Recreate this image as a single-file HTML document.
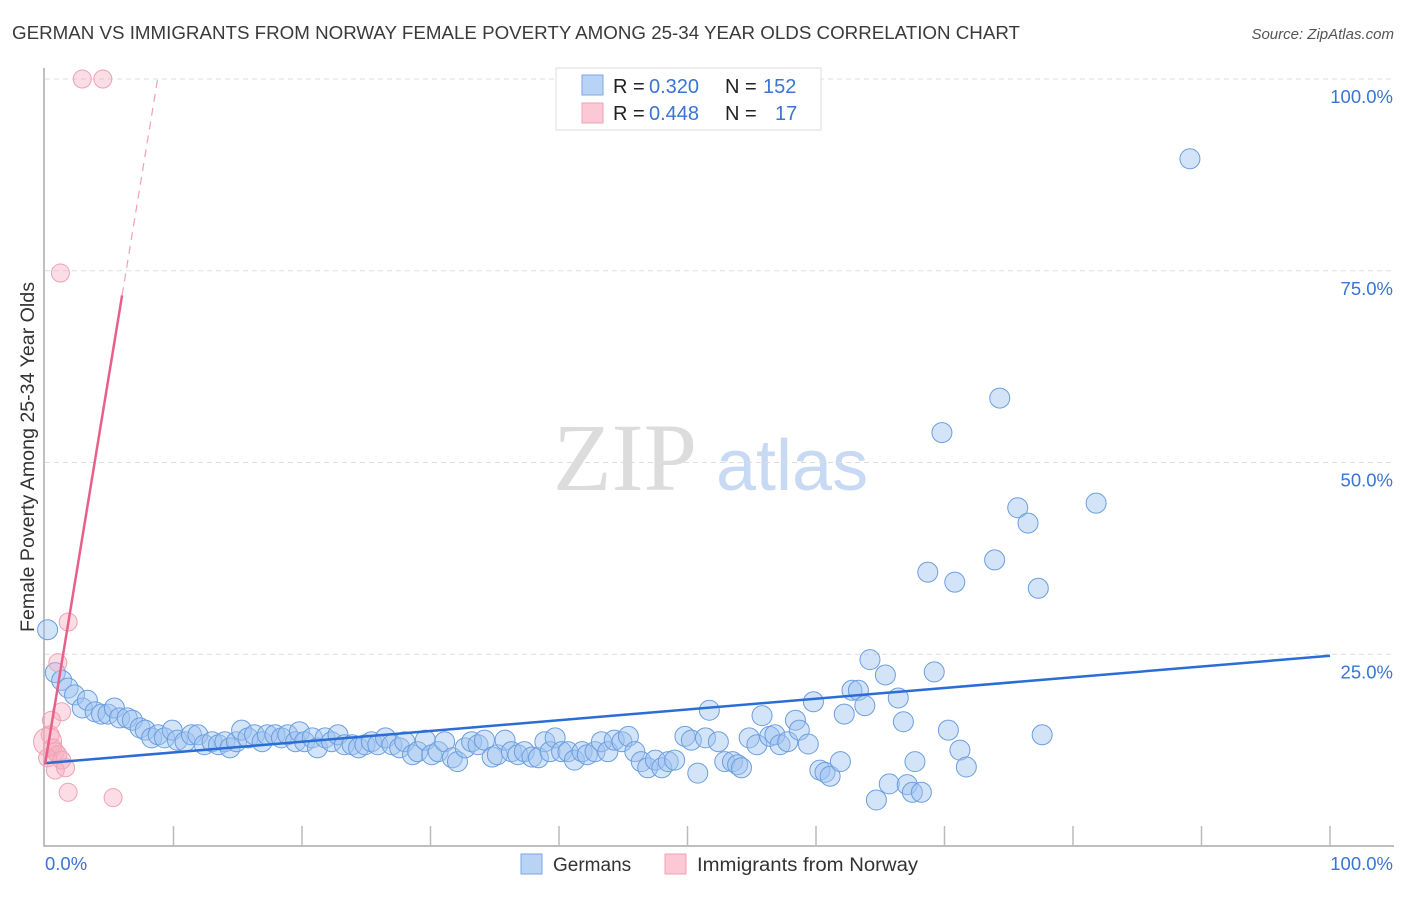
<!DOCTYPE html>
<html><head><meta charset="utf-8"><style>
body{margin:0;background:#fff;font-family:"Liberation Sans",sans-serif}
</style></head><body>
<svg id="c" width="1406" height="892" xmlns="http://www.w3.org/2000/svg" font-family="Liberation Sans, sans-serif">
<text x="12" y="39" font-size="18" fill="#3a3a3a" textLength="1008" lengthAdjust="spacingAndGlyphs">GERMAN VS IMMIGRANTS FROM NORWAY FEMALE POVERTY AMONG 25-34 YEAR OLDS CORRELATION CHART</text>
<text x="1394" y="39" font-size="15" fill="#555" font-style="italic" text-anchor="end">Source: ZipAtlas.com</text>
<g>
<text x="553" y="490" font-size="96" font-family="Liberation Serif, serif" fill="#dcdcdc">ZIP</text>
<text x="716" y="490" font-size="72" fill="#c8daf3">atlas</text>
</g>
<g id="grid"></g>
<g id="axes"></g>
<g id="pts"></g>
<g id="lines"></g>
<text transform="translate(34,457) rotate(-90)" font-size="19" fill="#333" text-anchor="middle" textLength="350" lengthAdjust="spacingAndGlyphs">Female Poverty Among 25-34 Year Olds</text>
<g>
<rect x="556" y="68" width="265" height="62" fill="#fff" stroke="#ddd"/>
<rect x="582" y="75" width="21" height="20" fill="#b9d3f5" stroke="#7aa6e6"/>
<rect x="582" y="103" width="21" height="20" fill="#fcc8d6" stroke="#f0a0b5"/>
<text x="613" y="93" font-size="20" fill="#222">R =</text>
<text x="649" y="93" font-size="20" fill="#3a74d4">0.320</text>
<text x="725" y="93" font-size="20" fill="#222">N =</text>
<text x="763" y="93" font-size="20" fill="#3a74d4">152</text>
<text x="613" y="120" font-size="20" fill="#222">R =</text>
<text x="649" y="120" font-size="20" fill="#3a74d4">0.448</text>
<text x="725" y="120" font-size="20" fill="#222">N =</text>
<text x="775" y="120" font-size="20" fill="#3a74d4">17</text>
</g>
<g>
<rect x="521" y="854" width="21" height="20" fill="#b9d3f5" stroke="#7aa6e6"/>
<text x="553" y="871" font-size="19" fill="#333">Germans</text>
<rect x="665" y="854" width="21" height="20" fill="#fcc8d6" stroke="#f0a0b5"/>
<text x="697" y="871" font-size="19" fill="#333" textLength="221" lengthAdjust="spacingAndGlyphs">Immigrants from Norway</text>
</g>
</svg>
<script>
const germansX=[0.2,0.8,1.3,1.8,2.3,2.9,3.3,3.9,4.4,4.9,5.4,5.8,6.4,6.8,7.4,7.8,8.3,8.8,9.3,9.9,10.3,10.9,11.4,11.9,12.4,13.0,13.5,14.0,14.4,14.9,15.3,15.8,16.3,16.9,17.3,17.9,18.4,18.9,19.5,19.8,20.2,20.8,21.2,21.8,22.3,22.8,23.3,23.9,24.4,24.9,25.4,25.9,26.5,27.0,27.6,28.0,28.6,29.0,29.6,30.1,30.6,31.1,31.7,32.1,32.7,33.2,33.7,34.2,34.8,35.2,35.8,36.3,36.8,37.3,37.9,38.4,38.9,39.3,39.7,40.2,40.7,41.2,41.8,42.2,42.8,43.3,43.8,44.3,44.9,45.4,45.9,46.4,46.9,47.5,48.0,48.5,49.0,49.8,50.3,50.8,51.4,51.7,52.4,52.9,53.5,53.9,54.2,54.8,55.4,55.8,56.4,56.8,57.2,57.8,58.4,58.7,59.4,59.8,60.3,60.7,61.1,61.9,62.2,62.8,63.3,63.8,64.2,64.7,65.4,65.7,66.4,66.8,67.1,67.5,67.7,68.2,68.7,69.2,69.8,70.3,70.8,71.2,71.7,73.9,74.3,75.7,76.5,77.3,77.6,81.8,89.1];
const germansY=[28.2,22.6,21.6,20.6,19.7,18.0,19.0,17.5,17.2,17.2,18.0,16.7,16.7,16.4,15.4,15.1,14.1,14.5,14.1,15.1,13.8,13.6,14.5,14.5,13.2,13.6,13.2,13.6,12.8,13.6,15.1,14.1,14.5,13.6,14.5,14.5,14.1,14.5,13.6,14.9,13.6,14.1,12.8,14.1,13.6,14.5,13.2,13.2,12.8,13.2,13.6,13.2,14.1,13.2,12.8,13.6,11.9,12.3,13.8,11.9,12.3,13.6,11.5,11.0,12.8,13.6,13.2,13.8,11.6,11.9,13.8,12.3,11.9,12.3,11.6,11.5,13.6,12.3,14.1,12.3,12.3,11.2,12.3,11.9,12.3,13.6,12.3,13.8,13.6,14.3,12.3,11.0,10.2,11.2,10.2,11.0,11.2,14.3,13.8,9.5,14.1,17.7,13.6,11.0,11.0,10.6,10.2,14.1,13.2,17.0,14.3,14.5,13.2,13.6,16.4,15.1,13.3,18.8,9.9,9.6,9.1,11.0,17.2,20.3,20.3,18.3,24.3,6.0,22.3,8.1,19.3,16.2,8.0,7.0,11.0,7.0,35.7,22.7,53.9,15.1,34.4,12.5,10.3,37.3,58.4,44.1,42.1,33.6,14.5,44.7,89.6];
const norwayX=[2.9,4.5,1.2,1.8,1.0,1.3,0.5,0.4,0.2,0.6,0.8,1.0,0.2,1.3,0.8,1.6,1.8,5.3];
const norwayY=[100,100,74.7,29.2,23.9,17.5,16.4,14.5,13.6,12.8,12.3,11.9,11.5,11.2,9.9,10.2,7.0,6.3];
const germansTrend=[10.8,24.8];
const norwayTrend=[10.6,10.2];
const yTicks=[25,50,75,100];
const yTickLabels=["25.0%","50.0%","75.0%","100.0%"];
const xTicks=[0,10,20,30,40,50,60,70,80,90,100];
const NS='http://www.w3.org/2000/svg';
const sx=v=>45+v*12.85, sy=v=>846-v*7.67;
function mk(tag,attrs,parent){const e=document.createElementNS(NS,tag);for(const k in attrs)e.setAttribute(k,attrs[k]);document.getElementById(parent).appendChild(e);return e;}
yTicks.forEach((t,i)=>{
 const g=mk('line',{x1:45,x2:1394,y1:sy(t),y2:sy(t),stroke:'#ddd','stroke-dasharray':'5,4'},'grid');
 
 
 const l=mk('text',{x:1393,y:sy(t)+24,'font-size':18.5,fill:'#3a74d4','text-anchor':'end'},'axes');
 l.textContent=yTickLabels[i];
 
 
});
const ax=mk('path',{d:'M44,68 V846 H1394',fill:'none',stroke:'#aaa','stroke-width':1.5},'axes');


xTicks.forEach(t=>{if(t===0)return;
 const e=mk('line',{x1:sx(t),x2:sx(t),y1:826,y2:846,stroke:'#bbb','stroke-width':1.5},'axes');
 
 
});
[[45,'start','0.0%'],[1393,'end','100.0%']].forEach(a=>{
 const e=mk('text',{x:a[0],y:870,'font-size':18.5,fill:'#3a74d4','text-anchor':a[1]},'axes');e.textContent=a[2];
 
 
});
germansX.forEach((x,i)=>{
 const c=mk('circle',{cx:sx(x),cy:sy(germansY[i]),r:10,fill:'rgba(160,195,240,0.45)',stroke:'#6a9ee0','stroke-width':1},'pts');
 
 
});
norwayX.forEach((x,i)=>{
 const c=mk('circle',{cx:sx(x),cy:sy(norwayY[i]),r:i===8?14:9,fill:'rgba(245,170,190,0.4)',stroke:'#f0a0b5','stroke-width':1},'pts');
 
 
});
const bl=mk('line',{x1:sx(0),y1:sy(germansTrend[0]),x2:sx(100),y2:sy(germansTrend[1]),stroke:'#2a6dd6','stroke-width':2.5},'lines');


const pf=x=>norwayTrend[0]+norwayTrend[1]*x;
const pl=mk('line',{x1:sx(0),y1:sy(pf(0)),x2:sx(6),y2:sy(pf(6)),stroke:'#e8608a','stroke-width':2.5},'lines');


const xe=(100-norwayTrend[0])/norwayTrend[1];
const pd=mk('line',{x1:sx(6),y1:sy(pf(6)),x2:sx(xe),y2:sy(100),stroke:'#f0a0b5','stroke-width':1.2,'stroke-dasharray':'8,6'},'lines');


</script>
</body></html>
